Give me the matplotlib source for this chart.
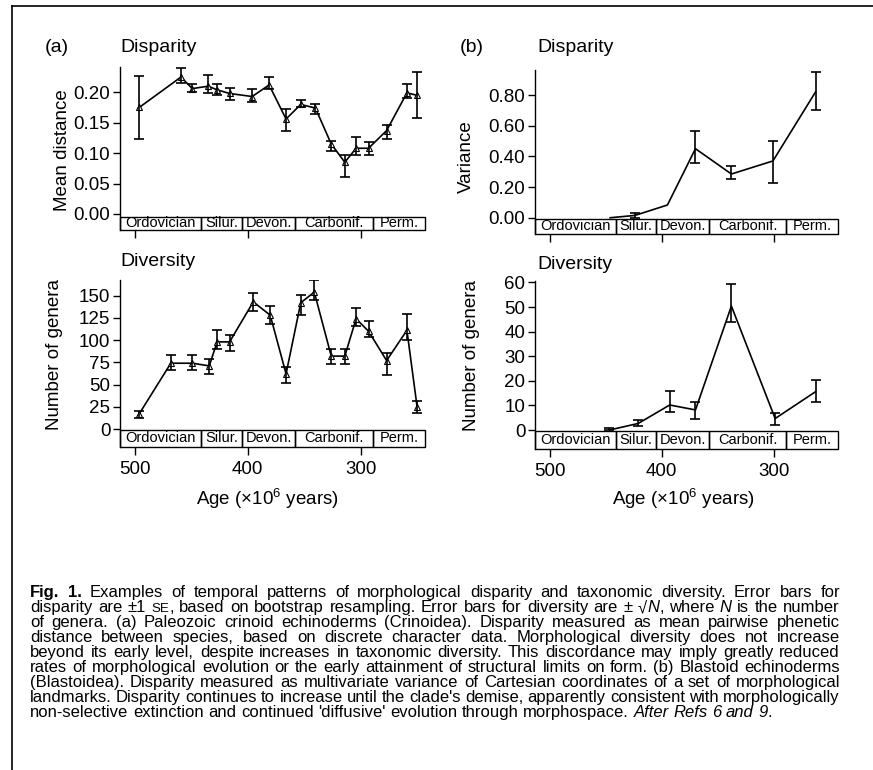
import re
import numpy as np
import matplotlib
matplotlib.use("Agg")
import matplotlib.pyplot as plt
from matplotlib.patches import Rectangle
from matplotlib.lines import Line2D
import matplotlib.transforms as mtransforms

# Data (ages in Myr)
periods = ["Ordovician", "Silur.", "Devon.", "Carbonif.", "Perm."]
period_edges = [513, 441, 405, 358, 289, 243]

# (a) crinoids - disparity (mean distance)
a_dis_age = [496, 459, 449, 435, 427, 416, 396, 381, 366, 353, 340, 326, 314, 304, 293, 277, 259, 250]
a_dis_val = [0.175, 0.225, 0.206, 0.210, 0.204, 0.198, 0.193, 0.212, 0.156, 0.180, 0.174, 0.115,
             0.085, 0.108, 0.108, 0.137, 0.199, 0.195]
a_dis_lo = [0.124, 0.215, 0.200, 0.198, 0.195, 0.188, 0.184, 0.205, 0.136, 0.175, 0.165, 0.104,
            0.060, 0.097, 0.097, 0.123, 0.190, 0.157]
a_dis_hi = [0.227, 0.240, 0.213, 0.228, 0.213, 0.207, 0.206, 0.225, 0.173, 0.188, 0.181, 0.120,
            0.097, 0.126, 0.118, 0.146, 0.213, 0.234]

# (a) crinoids - diversity (number of genera)
a_div_age = [496, 468, 449, 434, 427, 416, 395, 380, 366, 353, 341, 326, 314, 304, 293, 277, 259, 250]
a_div_val = [17, 74, 74, 71, 98, 98, 143, 128, 62, 142, 154, 82, 82, 124, 110, 77, 111, 25]
a_div_lo = [12, 66, 66, 62, 90, 88, 133, 118, 52, 128, 145, 73, 73, 116, 103, 61, 100, 18]
a_div_hi = [20, 83, 83, 79, 111, 106, 153, 138, 70, 151, 168, 90, 90, 136, 122, 86, 129, 31]

# (b) blastoids - disparity (variance)
b_dis_age = [446, 424, 395, 370, 338, 301, 263]
b_dis_val = [0.0, 0.015, 0.083, 0.45, 0.285, 0.37, 0.82]
b_dis_lo = [np.nan, 0.0, np.nan, 0.36, 0.25, 0.225, 0.70]
b_dis_hi = [np.nan, 0.03, np.nan, 0.565, 0.34, 0.50, 0.95]

# (b) blastoids - diversity (number of genera)
b_div_age = [447, 421, 393, 370, 338, 299, 263]
b_div_val = [0.0, 2.7, 10.2, 8.2, 50.4, 4.7, 15.6]
b_div_lo = [0.0, 1.5, 7.2, 4.7, 44.0, 2.0, 11.5]
b_div_hi = [1.0, 4.0, 15.8, 11.5, 59.3, 6.8, 20.3]

# caption; **bold**, *italic*, ~small~
caption_lines = [
    "**Fig.** **1.** Examples of temporal patterns of morphological disparity and taxonomic diversity. Error bars for",
    "disparity are ±1 ~SE~, based on bootstrap resampling. Error bars for diversity are ± √*N*, where *N* is the number",
    "of genera. (a) Paleozoic crinoid echinoderms (Crinoidea). Disparity measured as mean pairwise phenetic",
    "distance between species, based on discrete character data. Morphological diversity does not increase",
    "beyond its early level, despite increases in taxonomic diversity. This discordance may imply greatly reduced",
    "rates of morphological evolution or the early attainment of structural limits on form. (b) Blastoid echinoderms",
    "(Blastoidea). Disparity measured as multivariate variance of Cartesian coordinates of a set of morphological",
    "landmarks. Disparity continues to increase until the clade's demise, apparently consistent with morphologically",
    "non-selective extinction and continued 'diffusive' evolution through morphospace. *After* *Refs* *6* *and* *9*.",
]

plt.rcParams["font.family"] = ["Liberation Sans", "DejaVu Sans"]
plt.rcParams["mathtext.fontset"] = "custom"
plt.rcParams["mathtext.rm"] = "Liberation Sans"
plt.rcParams["mathtext.it"] = "Liberation Sans:italic"

W, H = 873, 770
fig = plt.figure(figsize=(W / 100, H / 100), dpi=100)
renderer = fig.canvas.get_renderer()


def px(x, y):
    return x / W, 1 - y / H


def make_axes(left, top, right, bottom):
    return fig.add_axes([left / W, 1 - bottom / H, (right - left) / W, (bottom - top) / H])


def style_panel(ax, ylim, yticks, yfmt, box_top, show_xlabels):
    ax.set_xlim(period_edges[0], period_edges[-1])
    ax.set_ylim(*ylim)
    ax.set_yticks(yticks)
    ax.set_yticklabels([yfmt.format(t) for t in yticks])
    ax.set_xticks([500, 400, 300])
    if show_xlabels:
        ax.set_xticklabels(["500", "400", "300"])
    else:
        ax.set_xticklabels([])
    for s in ["top", "right", "bottom"]:
        ax.spines[s].set_visible(False)
    ax.spines["left"].set_linewidth(1.0)
    ax.tick_params(axis="y", direction="out", length=5, width=1, labelsize=13.5, pad=2)
    ax.tick_params(axis="x", direction="out", length=6, width=1, labelsize=13.5, pad=4)
    # geological period strip below zero
    trans = mtransforms.blended_transform_factory(ax.transData, ax.transAxes)
    for i, name in enumerate(periods):
        x0, x1 = period_edges[i], period_edges[i + 1]
        ax.add_patch(Rectangle((x0, 0), x1 - x0, box_top, transform=trans, fill=False,
                               edgecolor="black", linewidth=1.0, clip_on=False))
        ax.text((x0 + x1) / 2, box_top / 2, name, transform=trans, ha="center", va="center",
                fontsize=10.5)


def draw_series(ax, age, val, lo, hi, marker=None):
    val = np.array(val)
    yerr = [val - np.array(lo), np.array(hi) - val]
    ax.plot(age, val, color="black", linewidth=1.2, marker=marker, markersize=4,
            markerfacecolor="white", markeredgewidth=0.8)
    ax.errorbar(age, val, yerr=yerr, fmt="none", ecolor="black", elinewidth=1.2,
                capsize=3.5, capthick=1.2)


def split_word(word):
    segs = []
    for part in re.split(r"(\*\*.+?\*\*|\*.+?\*|~.+?~)", word):
        if not part:
            continue
        if part.startswith("**"):
            segs.append((part[2:-2], "bold", "normal", 1.0))
        elif part.startswith("*"):
            segs.append((part[1:-1], "normal", "italic", 1.0))
        elif part.startswith("~"):
            segs.append((part[1:-1], "normal", "normal", 0.8))
        else:
            segs.append((part, "normal", "normal", 1.0))
    return segs


def text_width(s, size):
    t = fig.text(0, 0, s, fontsize=size)
    w = t.get_window_extent(renderer).width
    t.remove()
    return w


def caption_line(line, y, x0, x1, size, justify):
    words = []
    for w in line.split(" "):
        pieces = []
        for text, weight, style, scale in split_word(w):
            t = fig.text(0, 1 - y / H, text, fontsize=size * scale, fontweight=weight,
                         fontstyle=style, ha="left", va="baseline")
            pieces.append((t, t.get_window_extent(renderer).width))
        words.append(pieces)
    widths = [sum(p[1] for p in pcs) for pcs in words]
    if justify and len(words) > 1:
        gap = (x1 - x0 - sum(widths)) / (len(words) - 1)
    else:
        gap = text_width("a a", size) - text_width("aa", size)
    x = x0
    for pcs, wd in zip(words, widths):
        xx = x
        for t, tw in pcs:
            t.set_x(xx / W)
            xx += tw
        x += wd + gap


# (a) disparity
ax1 = make_axes(120, 66.7, 425, 230)
draw_series(ax1, a_dis_age, a_dis_val, a_dis_lo, a_dis_hi, marker="^")
style_panel(ax1, (-0.0263, 0.242), [0, 0.05, 0.10, 0.15, 0.20], "{:.2f}", 0.081, False)

# (a) diversity
ax2 = make_axes(120, 280, 425, 446.7)
draw_series(ax2, a_div_age, a_div_val, a_div_lo, a_div_hi, marker="^")
style_panel(ax2, (-19.9, 167.6), [0, 25, 50, 75, 100, 125, 150], "{:d}", 0.10, True)

# (b) disparity
ax3 = make_axes(535, 70, 838, 234)
draw_series(ax3, b_dis_age, b_dis_val, b_dis_lo, b_dis_hi)
style_panel(ax3, (-0.106, 0.963), [0, 0.2, 0.4, 0.6, 0.8], "{:.2f}", 0.0915, False)

# (b) diversity
ax4 = make_axes(535, 280.7, 838, 449.3)
draw_series(ax4, b_div_age, b_div_val, b_div_lo, b_div_hi)
style_panel(ax4, (-7.8, 60.7), [0, 10, 20, 30, 40, 50, 60], "{:d}", 0.109, True)

# panel titles and labels
fs = 14
fig.text(*px(45, 47), "(a)", fontsize=fs, va="center", ha="left")
fig.text(*px(120, 47), "Disparity", fontsize=fs, va="center", ha="left")
fig.text(*px(120, 262), "Diversity", fontsize=fs, va="center", ha="left")
fig.text(*px(460, 47), "(b)", fontsize=fs, va="center", ha="left")
fig.text(*px(537, 47), "Disparity", fontsize=fs, va="center", ha="left")
fig.text(*px(537, 265), "Diversity", fontsize=fs, va="center", ha="left")

fig.text(*px(63, 150), "Mean distance", fontsize=13.5, rotation=90, ha="center", va="center")
fig.text(*px(55, 355), "Number of genera", fontsize=13.5, rotation=90, ha="center", va="center")
fig.text(*px(466, 157), "Variance", fontsize=13.5, rotation=90, ha="center", va="center")
fig.text(*px(472, 356), "Number of genera", fontsize=13.5, rotation=90, ha="center", va="center")

fig.text(*px(267, 499), r"Age ($\times$10$^6$ years)", fontsize=13.5, ha="center", va="center")
fig.text(*px(683, 499), r"Age ($\times$10$^6$ years)", fontsize=13.5, ha="center", va="center")

# caption, justified like the printed page
for i, line in enumerate(caption_lines):
    caption_line(line, 597 + 15 * i, 30, 840, 12, i < len(caption_lines) - 1)

# frame lines of the scanned page
fig.add_artist(Line2D([12 / W, 1], [1 - 6 / H, 1 - 6 / H], color="black", linewidth=1.2))
fig.add_artist(Line2D([12 / W, 12 / W], [0, 1 - 6 / H], color="black", linewidth=1.2))

fig.savefig("out.png", dpi=100)
